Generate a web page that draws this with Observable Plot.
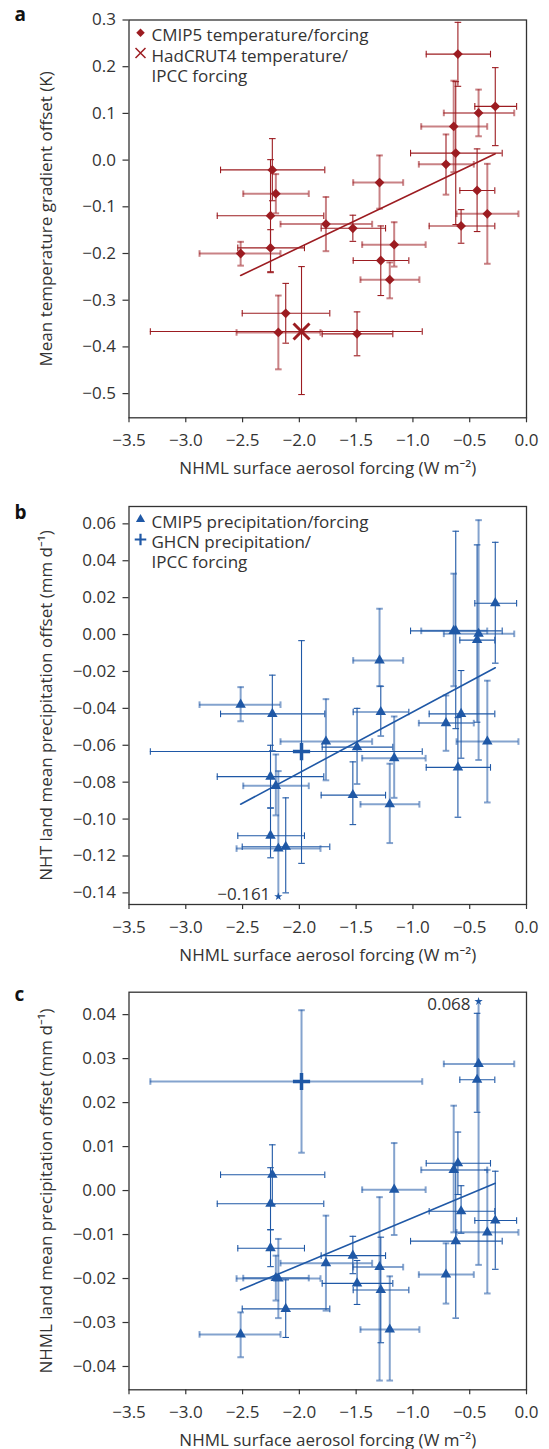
<!DOCTYPE html>
<html>
<head>
<meta charset="utf-8">
<script src="https://cdn.jsdelivr.net/npm/d3@7"></script>
<script src="https://cdn.jsdelivr.net/npm/@observablehq/plot@0.6"></script>
<style>
  body { margin: 0; background: #fff; }
  #chart svg { display: block; }
</style>
</head>
<body>
<div id="chart"></div>
<script>
// ---------------- DATA ----------------
// CMIP5 models: NHML surface aerosol forcing (W m-2) with error range
const forcing   = [-0.604, -0.422, -0.275, -0.641, -0.623, -0.709, -0.435, -0.345, -0.576, -1.294, -2.238, -2.207, -2.254, -1.766, -1.529, -2.517, -2.254, -1.165, -1.283, -1.204, -2.120, -2.185, -1.492];
const forcingLo = [-0.883, -0.728, -0.455, -0.927, -1.021, -0.948, -0.587, -0.616, -0.857, -1.526, -2.694, -2.494, -2.723, -2.166, -1.808, -2.879, -2.542, -1.447, -1.526, -1.462, -2.503, -2.553, -1.799];
const forcingHi = [-0.317, -0.108, -0.087, -0.346, -0.214, -0.464, -0.279, -0.071, -0.279, -1.086, -1.776, -1.917, -1.785, -1.359, -1.241, -2.166, -1.955, -0.888, -1.036, -0.943, -1.732, -1.814, -1.177];

// Panel a: mean temperature gradient offset (K)
const tempOffset = [0.227, 0.101, 0.115, 0.072, 0.015, -0.009, -0.065, -0.115, -0.141, -0.048, -0.021, -0.072, -0.119, -0.137, -0.146, -0.200, -0.188, -0.181, -0.215, -0.256, -0.328, -0.369, -0.372];
const tempLo     = [0.158, 0.051, 0.031, -0.026, -0.138, -0.074, -0.153, -0.222, -0.178, -0.104, -0.087, -0.114, -0.239, -0.195, -0.174, -0.226, -0.241, -0.228, -0.290, -0.296, -0.392, -0.448, -0.419];
const tempHi     = [0.295, 0.151, 0.198, 0.170, 0.168, 0.055, 0.024, -0.008, -0.106, 0.010, 0.046, -0.030, 0.001, -0.079, -0.118, -0.175, -0.149, -0.133, -0.141, -0.219, -0.264, -0.290, -0.325];

// Panel b: NHT land mean precipitation offset (mm/day)
const nhtPrecip = [-0.072, 0.0004, 0.017, 0.002, 0.002, -0.048, -0.003, -0.058, -0.043, -0.014, -0.043, -0.082, -0.077, -0.058, -0.087, -0.038, -0.109, -0.067, -0.042, -0.092, -0.115, -0.116, -0.061];
const nhtLo     = [-0.099, -0.068, -0.0155, -0.028, -0.051, -0.063, -0.0475, -0.091, -0.067, -0.028, -0.063, -0.098, -0.094, -0.079, -0.103, -0.047, -0.121, -0.0885, -0.055, -0.113, -0.140, -0.161, -0.081];
const nhtHi     = [-0.045, 0.062, 0.050, 0.033, 0.056, -0.033, 0.0486, -0.025, -0.0195, 0.014, -0.022, -0.065, -0.060, -0.035, -0.069, -0.0285, -0.094, -0.0444, -0.028, -0.070, -0.0885, -0.074, -0.040];

// Panel c: NHML land mean precipitation offset (mm/day)
const nhmlPrecip = [0.0062, 0.0288, -0.0068, 0.0047, -0.0115, -0.0191, 0.0252, -0.0095, -0.0047, -0.0174, 0.0036, -0.0199, -0.0030, -0.0165, -0.0148, -0.0327, -0.0131, 0.0002, -0.0226, -0.0316, -0.0269, -0.0200, -0.0211];
const nhmlLo     = [-0.0009, -0.0169, -0.0179, -0.0095, -0.029, -0.0257, 0.0178, -0.0234, -0.0097, -0.0432, -0.0032, -0.025, -0.0089, -0.0273, -0.0189, -0.0379, -0.0173, -0.0101, -0.0346, -0.0432, -0.0334, -0.029, -0.0259];
const nhmlHi     = [0.0133, 0.068, 0.0044, 0.0193, 0.006, -0.012, 0.0403, 0.0047, 0.0011, -0.0015, 0.0104, -0.0148, 0.0052, -0.0057, -0.0104, -0.0277, -0.0089, 0.0108, -0.0106, -0.0195, -0.0203, -0.011, -0.0159];

// Observations [value, low, high]
const obsForcing = [-1.981, -3.312, -0.918];   // IPCC forcing
const hadcrutTemp = [-0.367, -0.502, -0.228];  // HadCRUT4
const ghcnNht = [-0.0634, -0.124, -0.0033];    // GHCN, NHT
const ghcnNhml = [0.0248, 0.0086, 0.041];      // GHCN, NHML

// Regression fits [intercept, slope]
const tempFit = [0.0455, 0.1162];
const nhtFit  = [-0.0089, 0.0330];
const nhmlFit = [0.00464, 0.01081];

// Off-scale error-bar ends [model index, true value, value where the star is drawn]
const nhtOutlier  = [21, -0.161, -0.142];
const nhmlOutlier = [1, 0.068, 0.043];

// Axes
const xTicks = [-3.5, -3.0, -2.5, -2.0, -1.5, -1.0, -0.5, 0.0];
const tempTicks = [-0.5, -0.4, -0.3, -0.2, -0.1, 0.0, 0.1, 0.2, 0.3];
const nhtTicks = [-0.14, -0.12, -0.10, -0.08, -0.06, -0.04, -0.02, 0.00, 0.02, 0.04, 0.06];
const nhmlTicks = [-0.04, -0.03, -0.02, -0.01, 0.00, 0.01, 0.02, 0.03, 0.04];

const xLabel = "NHML surface aerosol forcing (W m\u207B\u00B2)";
const tempLabel = "Mean temperature gradient offset (K)";
const nhtLabel = "NHT land mean precipitation offset (mm d\u207B\u00B9)";
const nhmlLabel = "NHML land mean precipitation offset (mm d\u207B\u00B9)";
const tempLegend = ["CMIP5 temperature/forcing", "HadCRUT4 temperature/", "IPCC forcing"];
const nhtLegend = ["CMIP5 precipitation/forcing", "GHCN precipitation/", "IPCC forcing"];

// ---------------- DRAWING ----------------
const RED = "#9c1c21";
const BLUE = "#1f58a6";
const INK = "#333333";
const FONT = "'Open Sans', 'Noto Sans', sans-serif";

const vcap = {draw(ctx, size) { const r = Math.sqrt(size / Math.PI); ctx.moveTo(0, -r); ctx.lineTo(0, r); }};
const hcap = {draw(ctx, size) { const r = Math.sqrt(size / Math.PI); ctx.moveTo(-r, 0); ctx.lineTo(r, 0); }};

function errorBars(rows, style, capR) {
  const common = {fill: "none", r: capR, ...style};
  return [
    Plot.ruleY(rows, {y: "y", x1: "xlo", x2: "xhi", ...style}),
    Plot.ruleX(rows, {x: "x", y1: "ylo", y2: "yhi", ...style}),
    Plot.dot(rows, {x: "xlo", y: "y", symbol: vcap, ...common}),
    Plot.dot(rows, {x: "xhi", y: "y", symbol: vcap, ...common}),
    Plot.dot(rows, {x: "x", y: "ylo", symbol: hcap, filter: d => d.capLo, ...common}),
    Plot.dot(rows, {x: "x", y: "yhi", symbol: hcap, filter: d => d.capHi, ...common})
  ];
}

function panel(o) {
  const rows = forcing.map((x, i) => {
    let ylo = o.lo[i], yhi = o.hi[i], capLo = true, capHi = true;
    if (o.outlier && o.outlier[0] === i) {
      if (o.outlier[1] < o.vals[i]) { ylo = o.outlier[2]; capLo = false; }
      else { yhi = o.outlier[2]; capHi = false; }
    }
    return {i, x, xlo: forcingLo[i], xhi: forcingHi[i], y: o.vals[i], ylo, yhi, capLo, capHi};
  });
  const obsRow = [{x: obsForcing[0], xlo: obsForcing[1], xhi: obsForcing[2],
                   y: o.obs[0], ylo: o.obs[1], yhi: o.obs[2], capLo: true, capHi: true}];
  const dark = {stroke: o.color, strokeWidth: 1.1};
  const light = {stroke: o.color, strokeWidth: 2, strokeOpacity: 0.55};
  const xExt = d3.extent(forcing);
  const fitPts = xExt.map(x => ({x, y: o.fit[0] + o.fit[1] * x}));
  const ml = 128.5;

  const marks = [
    ...errorBars(rows.filter(d => d.i % 2 === 1), light, 3.3),
    ...errorBars(rows.filter(d => d.i % 2 === 0), dark, 3.3),
    ...errorBars(obsRow, o.obsBarStyle === "light" ? light : dark, 3.3),
    Plot.line(fitPts, {x: "x", y: "y", stroke: o.color, strokeWidth: 1.6}),
    Plot.dot(rows, {x: "x", y: "y", symbol: o.symbol, r: o.r, rotate: o.rotate || 0, fill: o.color, stroke: "none"}),
    Plot.dot(obsRow, {x: "x", y: "y", symbol: o.obsSymbol, r: o.obsR, stroke: o.color, strokeWidth: o.obsStroke, fill: "none"}),
    Plot.frame({stroke: INK, strokeWidth: 1.3}),
    Plot.axisX({ticks: xTicks, tickFormat: d3.format(".1f"), tickSize: 5, tickPadding: 11, label: null, stroke: INK, strokeWidth: 1.2}),
    Plot.axisY({ticks: o.yTicks, tickFormat: d3.format(o.yFormat), tickSize: 6, tickPadding: 7, label: null, stroke: INK, strokeWidth: 1.2}),
    // axis titles
    Plot.text([xLabel], {frameAnchor: "bottom", dy: 51, lineAnchor: "middle", fill: INK}),
    Plot.text([o.yLabel], {frameAnchor: "left", dx: 46 - ml, rotate: -90, textAnchor: "middle", lineAnchor: "middle", fill: INK}),
    // panel letter
    Plot.text([o.letter], {frameAnchor: "top-left", dx: 14 - ml, dy: o.letterDy, textAnchor: "start", lineAnchor: "bottom", fontWeight: "bold", fontSize: 19, fill: "#111"})
  ];
  if (o.legend.length) {
    marks.push(
      Plot.dot([0], {frameAnchor: "top-left", dx: 11.5, dy: 12.8, symbol: o.symbol, r: o.legendR, rotate: o.rotate || 0, fill: o.color}),
      Plot.dot([0], {frameAnchor: "top-left", dx: 11.5, dy: 33, symbol: o.obsSymbol, r: o.legendObsR, stroke: o.color, strokeWidth: o.legendObsStroke, fill: "none"}),
      Plot.text([o.legend.join("\n")], {frameAnchor: "top-left", dx: 22.5, dy: 6.7, textAnchor: "start", lineAnchor: "top", lineHeight: 1.2, fill: INK})
    );
  }
  if (o.outlier) {
    const oi = o.outlier[0];
    const starRow = [{x: forcing[oi], y: o.outlier[2], label: d3.format(".3f")(o.outlier[1])}];
    marks.push(
      Plot.dot(starRow, {x: "x", y: "y", symbol: "star", r: 2.6, fill: o.color}),
      Plot.text(starRow, {x: "x", y: "y", text: "label", textAnchor: "end", dx: -8, dy: o.starTextDy, fill: INK})
    );
  }
  return Plot.plot({
    width: 549,
    height: 483,
    marginLeft: ml,
    marginRight: 23,
    marginTop: o.mt,
    marginBottom: o.mb,
    style: {fontFamily: FONT, fontSize: "17px", color: INK, background: "white", overflow: "visible"},
    x: {domain: [-3.5, 0]},
    y: {domain: o.yDomain},
    marks
  });
}

const chart = document.getElementById("chart");
chart.append(panel({
  letter: "a", letterDy: 1, mt: 19.5, mb: 65.7,
  vals: tempOffset, lo: tempLo, hi: tempHi, obs: hadcrutTemp, fit: tempFit,
  yDomain: [-0.5518, 0.3], yTicks: tempTicks, yFormat: ".1f", yLabel: tempLabel,
  color: RED, symbol: "square", rotate: 45, r: 3.9, legendR: 3.4,
  obsSymbol: "times", obsR: 7.3, obsStroke: 3, legendObsR: 4.6, legendObsStroke: 1.5, obsBarStyle: "dark",
  legend: tempLegend
}));
chart.append(panel({
  letter: "b", letterDy: 12, mt: 23, mb: 62,
  vals: nhtPrecip, lo: nhtLo, hi: nhtHi, obs: ghcnNht, fit: nhtFit,
  yDomain: [-0.1463, 0.0694], yTicks: nhtTicks, yFormat: ".2f", yLabel: nhtLabel,
  color: BLUE, symbol: "triangle", r: 3.9, legendR: 3.4,
  obsSymbol: "plus", obsR: 5.6, obsStroke: 3.5, legendObsR: 3.8, legendObsStroke: 2.2, obsBarStyle: "dark",
  legend: nhtLegend, outlier: nhtOutlier, starTextDy: -2
}));
chart.append(panel({
  letter: "c", letterDy: 9, mt: 25.7, mb: 59.7,
  vals: nhmlPrecip, lo: nhmlLo, hi: nhmlHi, obs: ghcnNhml, fit: nhmlFit,
  yDomain: [-0.0453, 0.0451], yTicks: nhmlTicks, yFormat: ".2f", yLabel: nhmlLabel,
  color: BLUE, symbol: "triangle", r: 3.9, legendR: 3.4,
  obsSymbol: "plus", obsR: 5.6, obsStroke: 3.5, legendObsR: 3.8, legendObsStroke: 2.2, obsBarStyle: "light",
  legend: [], outlier: nhmlOutlier, starTextDy: 3
}));
</script>
</body>
</html>
